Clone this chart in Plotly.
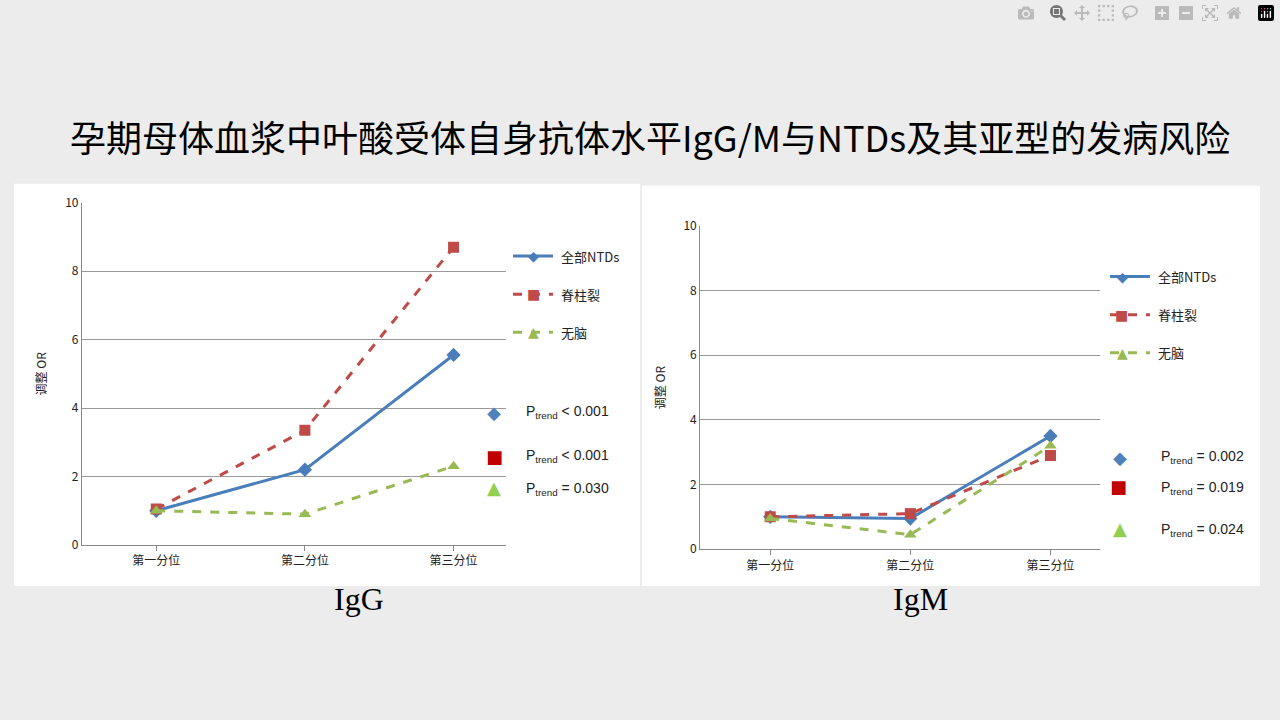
import plotly.graph_objects as go

cats = ["第一分位", "第二分位", "第三分位"]
series = ["全部NTDs", "脊柱裂", "无脑"]
igg_all = [1.0, 2.2, 5.55]
igg_sb = [1.05, 3.35, 8.7]
igg_an = [1.0, 0.9, 2.3]
igm_all = [1.0, 0.95, 3.5]
igm_sb = [1.0, 1.1, 2.9]
igm_an = [0.95, 0.45, 3.2]
igg_p = ["< 0.001", "< 0.001", "= 0.030"]
igm_p = ["= 0.002", "= 0.019", "= 0.024"]

colors = ["#4a7ebb", "#be4b48", "#98b954"]
symbols = ["diamond", "square", "triangle-up"]
dashes = ["solid", "dash", "dash"]
pcolors = ["#4f81bd", "#c00000", "#92d050"]
glyph = ["◆", "■", "▲"]

fig = go.Figure()
for xa, ya, data in [("x", "y", [igg_all, igg_sb, igg_an]), ("x2", "y2", [igm_all, igm_sb, igm_an])]:
    for i, vals in enumerate(data):
        fig.add_trace(go.Scatter(x=cats, y=vals, xaxis=xa, yaxis=ya, mode="lines+markers",
                                 line=dict(color=colors[i], width=3, dash=dashes[i]),
                                 marker=dict(symbol=symbols[i], size=11, color=colors[i]),
                                 showlegend=False))

font = dict(family="Noto Sans CJK SC", size=12, color="#222")
axcommon = dict(showline=True, linecolor="#888", linewidth=1, tickfont=font, zeroline=False)
fig.update_layout(
    width=1280, height=720, margin=dict(l=0, r=0, t=0, b=0),
    paper_bgcolor="#ececec", plot_bgcolor="white",
    xaxis=dict(domain=[0.064, 0.395], anchor="y", **axcommon, range=[-0.5, 2.35]),
    yaxis=dict(domain=[0.239, 0.726], anchor="x", range=[0, 10], dtick=2, showgrid=True,
               gridcolor="#999", title=dict(text="调整 OR", font=font), **axcommon),
    xaxis2=dict(domain=[0.547, 0.859], anchor="y2", **axcommon, range=[-0.5, 2.35]),
    yaxis2=dict(domain=[0.233, 0.693], anchor="x2", range=[0, 10], dtick=2, showgrid=True,
                gridcolor="#999", title=dict(text="调整 OR", font=font), **axcommon),
)
fig.update_xaxes(ticks="outside", ticklen=5, tickcolor="#888")

shapes = [
    dict(type="rect", xref="paper", yref="paper", x0=14/1280, x1=640/1280, y0=1-590/720, y1=1-178/720,
         fillcolor="white", line=dict(width=0), layer="below"),
    dict(type="rect", xref="paper", yref="paper", x0=642/1280, x1=1260/1280, y0=1-590/720, y1=1-180/720,
         fillcolor="white", line=dict(width=0), layer="below"),
]
ann = [
    dict(text="孕期母体血浆中叶酸受体自身抗体水平IgG/M与NTDs及其亚型的发病风险", x=650/1280, y=1-100/720,
         font=dict(family="Noto Sans CJK SC", size=36, color="black")),
    dict(text="IgG", x=332/1280, y=1-624/720, font=dict(family="Liberation Serif", size=32, color="black")),
    dict(text="IgM", x=950/1280, y=1-624/720, font=dict(family="Liberation Serif", size=32, color="black")),
]
for lx, ly0, step, px, py0, pstep, pv in [(513, 252, 39, 490, 412, 45, igg_p), (1110, 273, 39, 1125, 458, 43, igm_p)]:
    for i in range(3):
        y = ly0 + i * step
        shapes.append(dict(type="line", xref="paper", yref="paper", x0=lx/1280, x1=(lx+40)/1280,
                           y0=1-y/720, y1=1-y/720, line=dict(color=colors[i], width=3, dash=dashes[i])))
        ann.append(dict(text=glyph[i], x=(lx+20)/1280, y=1-y/720,
                        font=dict(family="DejaVu Sans", size=14, color=colors[i])))
        ann.append(dict(text=series[i], x=(lx+46)/1280, y=1-y/720, xanchor="left",
                        font=dict(family="Noto Sans CJK SC", size=13, color="#222")))
        py = py0 + i * pstep
        ann.append(dict(text=glyph[i], x=(px+4)/1280, y=1-py/720,
                        font=dict(family="DejaVu Sans", size=18, color=pcolors[i])))
        ann.append(dict(text="P<sub>trend</sub> " + pv[i], x=(px+34)/1280, y=1-py/720, xanchor="left",
                        font=dict(family="Liberation Sans", size=14, color="#222")))
for a in ann:
    a.update(xref="paper", yref="paper", showarrow=False)
fig.update_layout(shapes=shapes, annotations=ann)
fig.write_html("out.html", post_script="document.body.style.margin='0';document.body.style.overflow='hidden';")
